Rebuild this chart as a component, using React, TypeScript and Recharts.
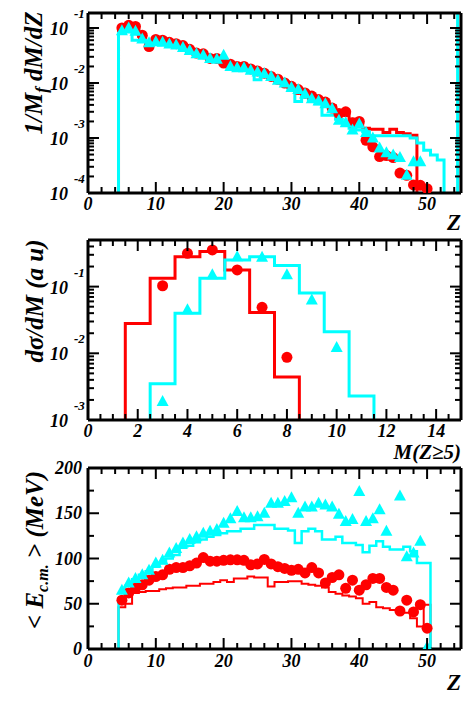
import React from "react";
import { ComposedChart, Line, Scatter, XAxis, YAxis, ReferenceLine } from "recharts";

const RED = "#ff0000";
const CYAN = "#00ffff";
const FONT = '"Liberation Serif", "Times New Roman", serif';

// ---- top panel: 1/Mf dM/dZ vs Z (log) ----
const P1_RED_Z = [5, 6, 7, 8, 9, 10, 11, 12, 13, 14, 15, 16, 17, 18, 19, 20, 21, 22, 23, 24, 25, 26, 27, 28, 29, 30, 31, 32, 33, 34, 35, 36, 37, 38, 39, 40, 41, 42, 43, 44, 45, 46, 47, 48, 49, 50];
const P1_RED = [
  0.1, 0.112, 0.107, 0.074, 0.046, 0.062, 0.06, 0.055, 0.052, 0.048,
  0.041, 0.035, 0.034, 0.028, 0.028, 0.023, 0.022, 0.02, 0.02, 0.018,
  0.0166, 0.0151, 0.0132, 0.0117, 0.01, 0.0087, 0.0076, 0.0066, 0.0058, 0.005,
  0.0045, 0.0035, 0.0028, 0.003, 0.0019, 0.002, 0.00091, 0.00069, 0.00046, 0.00048,
  0.00044, 0.00023, 0.00021, 0.00014, 0.000138, 0.00012,
];
const P1_CYAN_Z = [5, 6, 7, 8, 9, 10, 11, 12, 13, 14, 15, 16, 17, 18, 19, 20, 21, 22, 23, 24, 25, 26, 27, 28, 29, 30, 31, 32, 33, 34, 35, 36, 37, 38, 39, 40, 41, 42, 43, 44, 45, 46, 47, 48, 49];
const P1_CYAN = [
  0.089, 0.1, 0.087, 0.063, 0.054, 0.056, 0.055, 0.051, 0.049, 0.044,
  0.039, 0.034, 0.032, 0.028, 0.027, 0.032, 0.02, 0.019, 0.019, 0.017,
  0.0158, 0.0148, 0.0132, 0.0112, 0.01, 0.0083, 0.0076, 0.0063, 0.0052, 0.0047,
  0.0042, 0.0034, 0.0021, 0.0019, 0.0014, 0.0018, 0.00126, 0.001, 0.00066, 0.00054,
  0.00049, 0.00044, 0.00021, 0.00037, 0.00037,
];
// histograms: first bin centre + bin contents (unit bins)
const P1_RED_HIST_FIRST = 5;
const P1_RED_HIST = [
  0.095, 0.105, 0.09, 0.07, 0.055, 0.058, 0.056, 0.053, 0.05, 0.046,
  0.04, 0.036, 0.033, 0.029, 0.027, 0.024, 0.022, 0.021, 0.02, 0.018,
  0.017, 0.0155, 0.0135, 0.012, 0.0105, 0.0088, 0.0078, 0.0068, 0.0058, 0.0052,
  0.0046, 0.0038, 0.0031, 0.0027, 0.0022, 0.0019, 0.0015, 0.00145, 0.00145, 0.00126,
  0.00145, 0.00126, 0.0012, 0.00112,
];
const P1_CYAN_HIST_FIRST = 5;
const P1_CYAN_HIST = [
  0.08, 0.085, 0.06, 0.06, 0.052, 0.053, 0.05, 0.048, 0.046, 0.041,
  0.037, 0.033, 0.03, 0.027, 0.025, 0.023, 0.019, 0.018, 0.018, 0.016,
  0.0115, 0.014, 0.0125, 0.011, 0.0095, 0.0075, 0.0046, 0.0055, 0.005, 0.0042,
  0.0026, 0.0026, 0.0022, 0.0017, 0.0015, 0.0014, 0.0013, 0.0011, 0.0011, 0.0011,
  0.0011, 0.0011, 0.0011, 0.001, 0.00081, 0.0006, 0.00049, 0.0004,
];
const P1_CYAN_EDGE = 54.5;

// ---- middle panel: dsigma/dM vs M(Z>=5) ----
const P2_RED_M = [3, 4, 5, 6, 7, 8];
const P2_RED = [0.103, 0.316, 0.355, 0.178, 0.049, 0.0087];
const P2_CYAN_M = [3, 4, 5, 6, 7, 8, 9, 10];
const P2_CYAN = [0.0019, 0.045, 0.15, 0.28, 0.275, 0.15, 0.063, 0.0122];
const P2_RED_HIST_FIRST = 2;
const P2_RED_HIST = [0.028, 0.134, 0.28, 0.335, 0.178, 0.041, 0.0044];
const P2_CYAN_HIST_FIRST = 3;
const P2_CYAN_HIST = [0.0035, 0.04, 0.134, 0.25, 0.28, 0.207, 0.08, 0.021, 0.0023];

// ---- bottom panel: <E c.m.> vs Z ----
const P3_RED_Z = P1_RED_Z;
const P3_RED = [
  54, 62, 67, 71, 76, 80, 82, 88, 90, 90,
  92, 95, 101, 97, 97, 98, 98.5, 98.5, 98, 93,
  94, 99, 94, 91, 89, 87, 88, 84, 90, 84,
  73, 79, 82, 67, 76, 65, 71, 78, 78, 68,
  65, 42, 54, 41, 49, 23,
];
const P3_CYAN_Z = [5, 6, 7, 8, 9, 10, 11, 12, 13, 14, 15, 16, 17, 18, 19, 20, 21, 22, 23, 24, 25, 26, 27, 28, 29, 30, 31, 32, 33, 34, 35, 36, 37, 38, 39, 40, 41, 42, 43, 44, 46, 47, 48, 49, 50];
const P3_CYAN = [
  65, 73, 78, 82, 87, 95, 98, 106, 111, 117,
  121, 124, 128, 130, 132, 139, 144, 152, 145, 145,
  146, 150, 161, 161, 163, 167, 150, 157, 157, 161,
  159, 157, 149, 141, 143, 174, 141, 144, 154, 130,
  169, 102, 106, 119, 2,
];
const P3_RED_HIST_FIRST = 5;
const P3_RED_HIST = [
  46, 50, 62, 63, 64, 64, 66, 67, 68, 68,
  70, 70, 72, 72, 74, 76, 74, 78, 78, 80,
  79, 79, 69, 74, 74, 75, 75, 72, 71, 70,
  68, 63, 61, 59, 58, 56, 50, 52, 46, 45,
  43, 43, 40, 34, 25, 49,
];
const P3_CYAN_HIST_FIRST = 5;
const P3_CYAN_HIST = [
  56, 70, 77, 82, 86, 91, 95, 100, 104, 112,
  114, 118, 121, 124, 126, 128, 130, 130, 133, 133,
  137, 137, 137, 133, 133, 131, 117, 130, 133, 130,
  121, 121, 124, 117, 117, 115, 107, 114, 119, 113,
  110, 110, 113, 108, 95, 95,
];

// ticks
const Z_TICKS = [0, 2, 4, 6, 8, 10, 12, 14, 16, 18, 20, 22, 24, 26, 28, 30, 32, 34, 36, 38, 40, 42, 44, 46, 48, 50, 52, 54];
const Z_MAJOR = [0, 10, 20, 30, 40, 50];
const M_TICKS = [0, 0.5, 1, 1.5, 2, 2.5, 3, 3.5, 4, 4.5, 5, 5.5, 6, 6.5, 7, 7.5, 8, 8.5, 9, 9.5, 10, 10.5, 11, 11.5, 12, 12.5, 13, 13.5, 14, 14.5];
const M_MAJOR = [0, 2, 4, 6, 8, 10, 12, 14];
const P1_DECADES = [1e-4, 1e-3, 1e-2, 1e-1];
const P2_DECADES = [1e-3, 1e-2, 1e-1];
const E_TICKS = [0, 25, 50, 75, 100, 125, 150, 175, 200];
const E_MAJOR = [0, 50, 100, 150, 200];

const logTicks = (decades: number[], max: number) =>
  decades.flatMap((m) => [1, 2, 3, 4, 5, 6, 7, 8, 9].map((d) => (d === 1 ? m : d * m))).filter((v) => v <= max);

const pts = (xs: number[], ys: number[]) => xs.map((x, i) => ({ x, y: ys[i] }));

// unit-width histogram as a stepAfter polyline, closed down to the axis floor
function stepPts(first: number, vals: number[], floor: number) {
  const out = [{ x: first - 0.5, y: floor }];
  vals.forEach((v, i) => out.push({ x: first - 0.5 + i, y: v }));
  out.push({ x: first - 0.5 + vals.length, y: floor });
  return out;
}

const LABEL: React.CSSProperties = { fontFamily: FONT, fontWeight: 700, fontStyle: "italic", fontSize: 18, fill: "#000" };
const EXP: React.CSSProperties = { ...LABEL, fontSize: 13 };
const TITLE: React.CSSProperties = { fontFamily: FONT, fontWeight: 700, fontStyle: "italic", fontSize: 25, fill: "#000" };
const FRAME = { stroke: "#000", strokeWidth: 3 };

function xTick(side: "bottom" | "top", majors: number[], labelDy: number) {
  return (p: any) => {
    const v = p.payload.value;
    const major = majors.includes(v);
    const d = side === "bottom" ? -1 : 1;
    return (
      <g>
        <line x1={p.x} x2={p.x} y1={p.y} y2={p.y + d * (major ? 11 : 6)} stroke="#000" strokeWidth={2} />
        {side === "bottom" && major && (
          <text x={p.x} y={p.y + labelDy} textAnchor="middle" style={LABEL}>
            {v}
          </text>
        )}
      </g>
    );
  };
}

function logYTick(side: "left" | "right", majors: number[]) {
  return (p: any) => {
    const v = p.payload.value;
    const major = majors.includes(v);
    const d = side === "left" ? 1 : -1;
    return (
      <g>
        <line x1={p.x} x2={p.x + d * (major ? 11 : 6)} y1={p.y} y2={p.y} stroke="#000" strokeWidth={2} />
        {side === "left" && major && (
          <>
            <text x={p.x - 20} y={p.y + 7} textAnchor="end" style={LABEL}>10</text>
            <text x={p.x - 14} y={p.y - 10} textAnchor="start" style={EXP}>
              {String(Math.round(Math.log10(v)))}
            </text>
          </>
        )}
      </g>
    );
  };
}

function linYTick(side: "left" | "right", majors: number[]) {
  return (p: any) => {
    const v = p.payload.value;
    const major = majors.includes(v);
    const d = side === "left" ? 1 : -1;
    return (
      <g>
        <line x1={p.x} x2={p.x + d * (major ? 11 : 6)} y1={p.y} y2={p.y} stroke="#000" strokeWidth={2} />
        {side === "left" && major && (
          <text x={p.x - 6} y={p.y + 6} textAnchor="end" style={LABEL}>{v}</text>
        )}
      </g>
    );
  };
}

const Dot = (p: any) => <circle cx={p.cx} cy={p.cy} r={5.5} fill={RED} />;
const Tri = (p: any) => (
  <polygon points={`${p.cx},${p.cy - 6.5} ${p.cx - 6},${p.cy + 4.5} ${p.cx + 6},${p.cy + 4.5}`} fill={CYAN} />
);

// frame with inward ticks on all four sides; axis boxes are sized so the plot
// area lands on the same pixels as the reference
function Axes({ xDomain, xTicks, xMajor, yDomain, yTicks, yMajor, log, labelDy }: any) {
  const yt = log ? logYTick : linYTick;
  const scale = log ? "log" : "linear";
  return [
    <XAxis key="xb" xAxisId={0} dataKey="x" type="number" domain={xDomain} allowDataOverflow ticks={xTicks} interval={0}
      height={30} tickSize={0} tickMargin={0} axisLine={FRAME} tickLine={false} tick={xTick("bottom", xMajor, labelDy)} />,
    <XAxis key="xt" xAxisId="t" orientation="top" dataKey="x" type="number" domain={xDomain} allowDataOverflow ticks={xTicks} interval={0}
      height={2} tickSize={0} tickMargin={0} axisLine={FRAME} tickLine={false} tick={xTick("top", xMajor, 0)} />,
    <YAxis key="yl" yAxisId={0} type="number" scale={scale} domain={yDomain} allowDataOverflow ticks={yTicks} interval={0}
      width={88} tickSize={0} tickMargin={0} axisLine={FRAME} tickLine={false} tick={yt("left", yMajor)} />,
    <YAxis key="yr" yAxisId="r" orientation="right" type="number" scale={scale} domain={yDomain} allowDataOverflow ticks={yTicks} interval={0}
      width={2} tickSize={0} tickMargin={0} axisLine={FRAME} tickLine={false} tick={yt("right", yMajor)} />,
  ];
}

export default function App() {
  const p1Ticks = logTicks(P1_DECADES, 0.1875);
  const p2Ticks = logTicks(P2_DECADES, 0.5);
  return (
    <div style={{ position: "absolute", left: 0, top: 0, width: 473, height: 709, background: "#fff" }}>
      <div style={{ position: "absolute", left: 0, top: 0 }}>
        <ComposedChart width={473} height={230} margin={{ top: 11, right: 10, bottom: 7, left: 0 }}>
          {Axes({ xDomain: [0, 55], xTicks: Z_TICKS, xMajor: Z_MAJOR, yDomain: [1e-4, 0.1875], yTicks: p1Ticks, yMajor: P1_DECADES, log: true, labelDy: 17 })}
          <Line data={stepPts(P1_RED_HIST_FIRST, P1_RED_HIST, 1e-4)} dataKey="y" type="stepAfter" stroke={RED} strokeWidth={3} dot={false} isAnimationActive={false} />
          <Line data={stepPts(P1_CYAN_HIST_FIRST, P1_CYAN_HIST, 1e-4)} dataKey="y" type="stepAfter" stroke={CYAN} strokeWidth={3} dot={false} isAnimationActive={false} />
          <Scatter data={pts(P1_RED_Z, P1_RED)} dataKey="y" shape={Dot} isAnimationActive={false} />
          <Scatter data={pts(P1_CYAN_Z, P1_CYAN)} dataKey="y" shape={Tri} isAnimationActive={false} />
          <ReferenceLine x={P1_CYAN_EDGE} stroke={CYAN} strokeWidth={3} />
        </ComposedChart>
      </div>
      <div style={{ position: "absolute", left: 0, top: 230 }}>
        <ComposedChart width={473} height={220} margin={{ top: 8, right: 10, bottom: 0, left: 0 }}>
          {Axes({ xDomain: [0, 15], xTicks: M_TICKS, xMajor: M_MAJOR, yDomain: [1e-3, 0.5], yTicks: p2Ticks, yMajor: P2_DECADES, log: true, labelDy: 17 })}
          <Line data={stepPts(P2_RED_HIST_FIRST, P2_RED_HIST, 1e-3)} dataKey="y" type="stepAfter" stroke={RED} strokeWidth={3} dot={false} isAnimationActive={false} />
          <Line data={stepPts(P2_CYAN_HIST_FIRST, P2_CYAN_HIST, 1e-3)} dataKey="y" type="stepAfter" stroke={CYAN} strokeWidth={3} dot={false} isAnimationActive={false} />
          <Scatter data={pts(P2_RED_M, P2_RED)} dataKey="y" shape={Dot} isAnimationActive={false} />
          <Scatter data={pts(P2_CYAN_M, P2_CYAN)} dataKey="y" shape={Tri} isAnimationActive={false} />
        </ComposedChart>
      </div>
      <div style={{ position: "absolute", left: 0, top: 444 }}>
        <ComposedChart width={473} height={265} margin={{ top: 22, right: 10, bottom: 30, left: 0 }}>
          {Axes({ xDomain: [0, 55], xTicks: Z_TICKS, xMajor: Z_MAJOR, yDomain: [0, 200], yTicks: E_TICKS, yMajor: E_MAJOR, log: false, labelDy: 18 })}
          <Line data={stepPts(P3_RED_HIST_FIRST, P3_RED_HIST, 0)} dataKey="y" type="stepAfter" stroke={RED} strokeWidth={2} dot={false} isAnimationActive={false} />
          <Line data={stepPts(P3_CYAN_HIST_FIRST, P3_CYAN_HIST, 0)} dataKey="y" type="stepAfter" stroke={CYAN} strokeWidth={2.5} dot={false} isAnimationActive={false} />
          <Scatter data={pts(P3_RED_Z, P3_RED)} dataKey="y" shape={Dot} isAnimationActive={false} />
          <Scatter data={pts(P3_CYAN_Z, P3_CYAN)} dataKey="y" shape={Tri} isAnimationActive={false} />
        </ComposedChart>
      </div>
      <svg width={473} height={709} style={{ position: "absolute", left: 0, top: 0, pointerEvents: "none" }}>
        <text transform="rotate(-90 42 73)" x={42} y={73} textAnchor="middle" style={TITLE}>
          1/M<tspan dy={5} fontSize={17}>f</tspan>
          <tspan dy={-5}> dM/dZ</tspan>
        </text>
        <text x={461} y={230} textAnchor="end" style={{ ...TITLE, fontSize: 23 }}>Z</text>
        <text transform="rotate(-90 43 301)" x={43} y={301} textAnchor="middle" style={TITLE}>dσ/dM (a u)</text>
        <text x={461} y={459} textAnchor="end" style={{ ...TITLE, fontSize: 21 }}>M(Z≥5)</text>
        <text transform="rotate(-90 43 550)" x={43} y={550} textAnchor="middle" style={TITLE}>
          {"< E"}
          <tspan dy={5} fontSize={16}>c.m.</tspan>
          <tspan dy={-5}>{" > (MeV)"}</tspan>
        </text>
        <text x={461} y={690} textAnchor="end" style={{ ...TITLE, fontSize: 23 }}>Z</text>
      </svg>
    </div>
  );
}
